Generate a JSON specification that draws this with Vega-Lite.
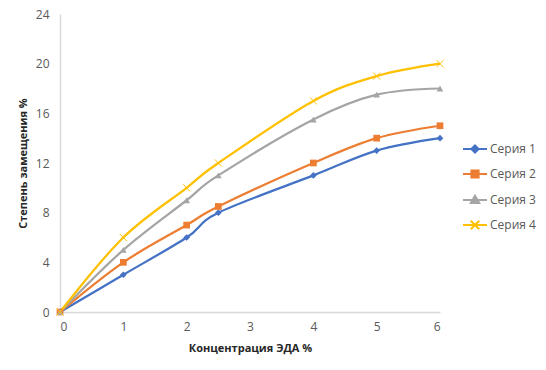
{
  "$schema": "https://vega.github.io/schema/vega-lite/v6.json",
  "width": 380,
  "height": 298,
  "autosize": "none",
  "padding": {"left": 60, "top": 14, "right": 106, "bottom": 58},
  "background": "white",
  "config": {
    "view": {"stroke": null},
    "font": "Open Sans",
    "axis": {
      "grid": false,
      "ticks": false,
      "domainColor": "#d9d9d9",
      "domainWidth": 1.5,
      "labelColor": "#595959",
      "labelFont": "Open Sans",
      "labelFontSize": 12,
      "titleFont": "Open Sans",
      "titleFontSize": 11,
      "titleFontWeight": "bold",
      "titleColor": "#262626"
    },
    "legend": {
      "labelFont": "Open Sans",
      "labelFontSize": 12,
      "labelColor": "#595959"
    }
  },
  "data": {
    "values": [
      {"x": 0, "y": 0, "s": "Серия 1"}, {"x": 1, "y": 3, "s": "Серия 1"}, {"x": 2, "y": 6, "s": "Серия 1"}, {"x": 2.5, "y": 8, "s": "Серия 1"}, {"x": 4, "y": 11, "s": "Серия 1"}, {"x": 5, "y": 13, "s": "Серия 1"}, {"x": 6, "y": 14, "s": "Серия 1"},
      {"x": 0, "y": 0, "s": "Серия 2"}, {"x": 1, "y": 4, "s": "Серия 2"}, {"x": 2, "y": 7, "s": "Серия 2"}, {"x": 2.5, "y": 8.5, "s": "Серия 2"}, {"x": 4, "y": 12, "s": "Серия 2"}, {"x": 5, "y": 14, "s": "Серия 2"}, {"x": 6, "y": 15, "s": "Серия 2"},
      {"x": 0, "y": 0, "s": "Серия 3"}, {"x": 1, "y": 5, "s": "Серия 3"}, {"x": 2, "y": 9, "s": "Серия 3"}, {"x": 2.5, "y": 11, "s": "Серия 3"}, {"x": 4, "y": 15.5, "s": "Серия 3"}, {"x": 5, "y": 17.5, "s": "Серия 3"}, {"x": 6, "y": 18, "s": "Серия 3"},
      {"x": 0, "y": 0, "s": "Серия 4"}, {"x": 1, "y": 6, "s": "Серия 4"}, {"x": 2, "y": 10, "s": "Серия 4"}, {"x": 2.5, "y": 12, "s": "Серия 4"}, {"x": 4, "y": 17, "s": "Серия 4"}, {"x": 5, "y": 19, "s": "Серия 4"}, {"x": 6, "y": 20, "s": "Серия 4"}
    ]
  },
  "encoding": {
    "x": {
      "field": "x", "type": "quantitative",
      "scale": {"domain": [0, 6], "nice": false},
      "axis": {"values": [0, 1, 2, 3, 4, 5, 6], "labelPadding": 9, "title": "Концентрация ЭДА %", "titlePadding": 10}
    },
    "y": {
      "field": "y", "type": "quantitative",
      "scale": {"domain": [0, 24], "nice": false},
      "axis": {"values": [0, 4, 8, 12, 16, 20, 24], "labelPadding": 11, "title": "Степень замещения %", "titlePadding": 7}
    },
    "color": {
      "field": "s", "type": "nominal",
      "scale": {"domain": ["Серия 1", "Серия 2", "Серия 3", "Серия 4"], "range": ["#4472C4", "#ED7D31", "#A5A5A5", "#FFC000"]}
    }
  },
  "layer": [
    {
      "mark": {"type": "line", "interpolate": "cardinal", "strokeWidth": 2.25},
      "encoding": {
        "color": {
          "field": "s", "type": "nominal",
          "legend": {
            "title": null,
            "orient": "none",
            "legendX": 408,
            "legendY": 128,
            "symbolSize": 144,
            "symbolStrokeWidth": 2,
            "labelOffset": 8,
            "rowPadding": 9,
            "encode": {
              "symbols": {
                "update": {
                  "shape": {"signal": "datum.value === 'Серия 1' ? 'M-2,0H2M0,-0.6L0.6,0L0,0.6L-0.6,0Z' : datum.value === 'Серия 2' ? 'M-2,0H2M-0.6,-0.6H0.6V0.6H-0.6Z' : datum.value === 'Серия 3' ? 'M-2,0H2M0,-0.7L0.7,0.5H-0.7Z' : 'M-2,0H2M-0.7,-0.7L0.7,0.7M-0.7,0.7L0.7,-0.7'"},
                  "fill": {"scale": "color", "field": "value"},
                  "stroke": {"scale": "color", "field": "value"},
                  "strokeWidth": {"value": 2},
                  "size": {"value": 144}
                }
              }
            }
          }
        }
      }
    },
    {
      "transform": [{"filter": "datum.s !== 'Серия 4'"}],
      "mark": {"type": "point", "filled": true, "size": 45, "opacity": 1},
      "encoding": {
        "color": {"field": "s", "type": "nominal", "legend": null},
        "shape": {
          "field": "s", "type": "nominal", "legend": null,
          "scale": {"domain": ["Серия 1", "Серия 2", "Серия 3"], "range": ["diamond", "square", "triangle-up"]}
        }
      }
    },
    {
      "transform": [{"filter": "datum.s === 'Серия 4'"}],
      "mark": {"type": "point", "filled": false, "size": 50, "strokeWidth": 1, "opacity": 1, "shape": "M-1,-1L1,1M-1,1L1,-1"},
      "encoding": {
        "color": {"field": "s", "type": "nominal", "legend": null}
      }
    }
  ]
}
